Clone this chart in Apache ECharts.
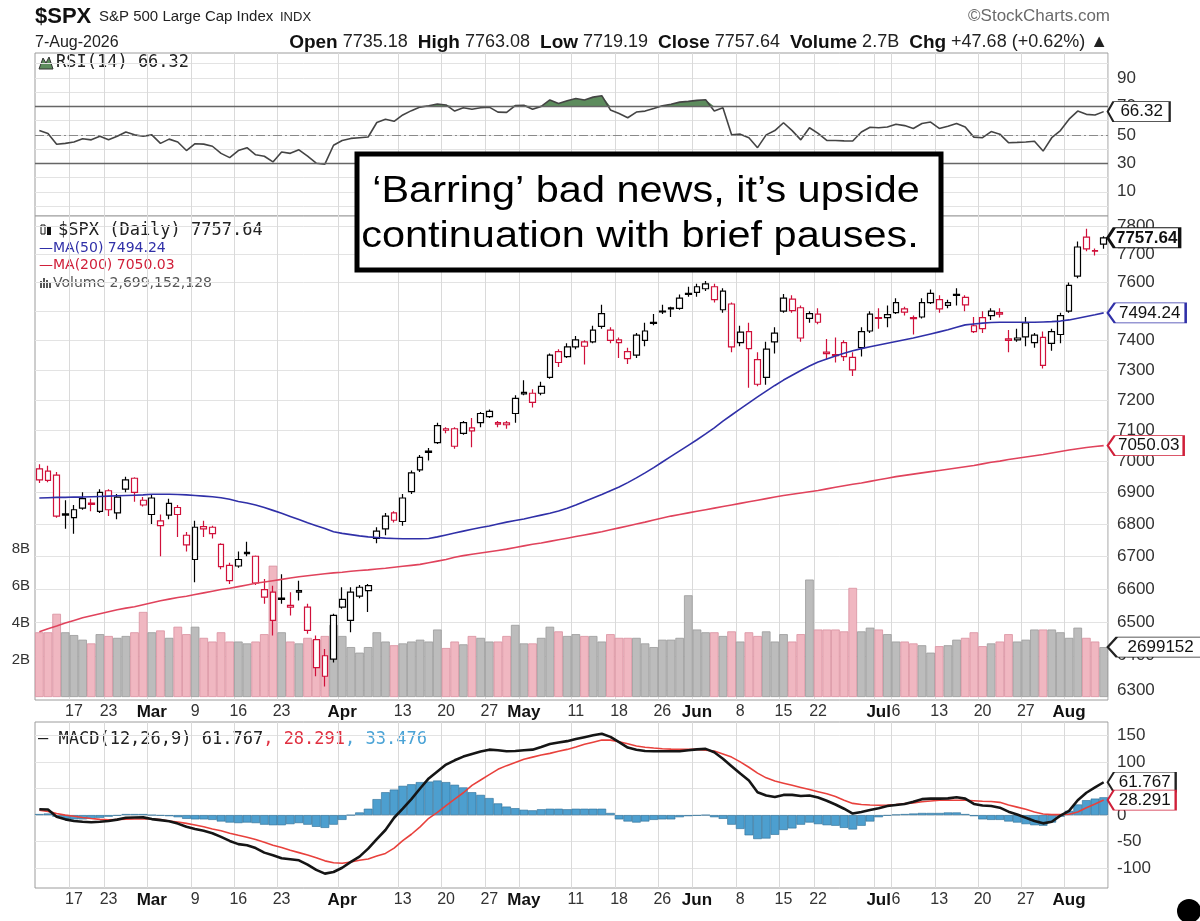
<!DOCTYPE html>
<html>
<head>
<meta charset="utf-8">
<script src="https://cdn.jsdelivr.net/npm/echarts@6/dist/echarts.min.js"></script>
<style>
html, body { margin: 0; padding: 0; background: #fff; }
#chart { width: 1200px; height: 921px; }
</style>
</head>
<body>
<div id="chart"></div>
<script>
// trading days Feb 10 - Aug 7 2026
const dates = [].concat(
  '10 11 12 13 17 18 19 20 23 24 25 26 27'.split(' ').map(d => '2026-02-' + d),
  '02 03 04 05 06 09 10 11 12 13 16 17 18 19 20 23 24 25 26 27 30 31'.split(' ').map(d => '2026-03-' + d),
  '01 02 06 07 08 09 10 13 14 15 16 17 20 21 22 23 24 27 28 29 30'.split(' ').map(d => '2026-04-' + d),
  '01 04 05 06 07 08 11 12 13 14 15 18 19 20 21 22 26 27 28 29'.split(' ').map(d => '2026-05-' + d),
  '01 02 03 04 05 08 09 10 11 12 15 16 17 18 22 23 24 25 26 29 30'.split(' ').map(d => '2026-06-' + d),
  '01 02 06 07 08 09 10 13 14 15 16 17 20 21 22 23 24 27 28 29 30 31'.split(' ').map(d => '2026-07-' + d),
  '03 04 05 06 07'.split(' ').map(d => '2026-08-' + d)
)

const tickDates = ['2026-02-17', '2026-02-23', '2026-03-02', '2026-03-09', '2026-03-16', '2026-03-23', '2026-04-01', '2026-04-13', '2026-04-20', '2026-04-27', '2026-05-01', '2026-05-11', '2026-05-18', '2026-05-26', '2026-06-01', '2026-06-08', '2026-06-15', '2026-06-22', '2026-07-01', '2026-07-06', '2026-07-13', '2026-07-20', '2026-07-27', '2026-08-03']
const tickText = ['17', '23', 'Mar', '9', '16', '23', 'Apr', '13', '20', '27', 'May', '11', '18', '26', 'Jun', '8', '15', '22', 'Jul', '6', '13', '20', '27', 'Aug']

const opens = [
  6975, 6968, 6955, 6832, 6820, 6850, 6866, 6840, 6905, 6835,
  6910, 6945, 6860, 6830, 6795, 6828, 6852, 6765, 6690, 6792,
  6790, 6737, 6672, 6670, 6712, 6700, 6575, 6590, 6572, 6550,
  6595, 6545, 6448, 6400, 6390, 6545, 6505, 6578, 6595, 6755,
  6785, 6835, 6808, 6902, 6972, 7032, 7060, 7105, 7105, 7090,
  7108, 7125, 7145, 7125, 7124, 7155, 7225, 7222, 7222, 7275,
  7362, 7345, 7378, 7380, 7395, 7448, 7435, 7402, 7362, 7350,
  7400, 7462, 7500, 7512, 7510, 7562, 7565, 7578, 7585, 7505,
  7525, 7428, 7430, 7335, 7275, 7395, 7500, 7542, 7512, 7475,
  7490, 7360, 7352, 7392, 7300, 7375, 7432, 7478, 7488, 7495,
  7508, 7478, 7480, 7530, 7540, 7520, 7558, 7548, 7430, 7478,
  7485, 7495, 7405, 7408, 7460, 7392, 7410, 7390, 7420, 7500,
  7622, 7760, 7712, 7735.18
]
const closes = [
  6940, 6938, 6825, 6828, 6845, 6880, 6862, 6900, 6845, 6885,
  6940, 6900, 6875, 6882, 6810, 6865, 6830, 6735, 6790, 6785,
  6770, 6668, 6625, 6690, 6708, 6618, 6598, 6505, 6568, 6545,
  6590, 6475, 6365, 6340, 6520, 6568, 6590, 6605, 6610, 6778,
  6825, 6812, 6882, 6962, 7012, 7028, 7115, 7100, 7048, 7125,
  7098, 7155, 7162, 7120, 7118, 7205, 7220, 7192, 7245, 7350,
  7325, 7378, 7402, 7395, 7435, 7492, 7400, 7392, 7338, 7418,
  7432, 7458, 7498, 7508, 7545, 7558, 7585, 7595, 7540, 7570,
  7378, 7392, 7372, 7252, 7370, 7425, 7545, 7502, 7408, 7492,
  7462, 7355, 7348, 7345, 7342, 7430, 7490, 7475, 7478, 7530,
  7497, 7474, 7530, 7562, 7508, 7530, 7555, 7522, 7450, 7440,
  7500, 7490, 7400, 7402, 7412, 7418, 7315, 7430, 7485, 7590,
  7725, 7718, 7710, 7757.64
]
const lows = [
  6930, 6932, 6820, 6785, 6770, 6845, 6840, 6835, 6825, 6815,
  6900, 6870, 6855, 6800, 6700, 6815, 6760, 6715, 6620, 6760,
  6755, 6660, 6615, 6665, 6700, 6612, 6555, 6460, 6555, 6520,
  6565, 6465, 6340, 6310, 6380, 6540, 6470, 6572, 6530, 6740,
  6765, 6805, 6795, 6895, 6965, 7002, 7055, 7090, 7040, 7085,
  7045, 7110, 7140, 7110, 7105, 7125, 7215, 7175, 7215, 7270,
  7310, 7340, 7370, 7318, 7390, 7440, 7390, 7340, 7320, 7340,
  7380, 7452, 7490, 7480, 7505, 7550, 7550, 7570, 7530, 7495,
  7360, 7380, 7240, 7245, 7250, 7355, 7495, 7495, 7395, 7460,
  7455, 7335, 7325, 7330, 7280, 7345, 7425, 7440, 7445, 7490,
  7485, 7420, 7475, 7525, 7495, 7510, 7520, 7500, 7425, 7425,
  7470, 7478, 7360, 7395, 7380, 7375, 7305, 7365, 7390, 7495,
  7615, 7710, 7695, 7719.19
]
const highs = [
  6990, 6985, 6965, 6875, 6860, 6900, 6880, 6910, 6910, 6895,
  6950, 6948, 6885, 6895, 6830, 6880, 6860, 6775, 6810, 6810,
  6795, 6740, 6680, 6715, 6745, 6702, 6630, 6610, 6645, 6590,
  6625, 6555, 6460, 6420, 6525, 6605, 6605, 6612, 6615, 6790,
  6835, 6840, 6895, 6970, 7020, 7042, 7125, 7110, 7110, 7130,
  7140, 7160, 7168, 7130, 7130, 7215, 7265, 7235, 7260, 7355,
  7370, 7390, 7415, 7400, 7450, 7522, 7445, 7410, 7375, 7425,
  7460, 7490, 7522, 7515, 7558, 7585, 7595, 7605, 7595, 7580,
  7530, 7450, 7460, 7360, 7395, 7445, 7560, 7555, 7520, 7500,
  7510, 7405, 7410, 7400, 7360, 7445, 7500, 7510, 7520, 7545,
  7515, 7485, 7545, 7575, 7555, 7540, 7580, 7555, 7480, 7500,
  7510, 7510, 7435, 7440, 7480, 7425, 7430, 7440, 7495, 7600,
  7745, 7790, 7720, 7763.08
]
// volume, billions of shares
const volumes = [
  3.5, 3.5, 4.5, 3.5, 3.35, 3.1, 2.9, 3.4, 3.3, 3.2,
  3.3, 3.5, 4.6, 3.5, 3.6, 3.2, 3.8, 3.4, 3.8, 3.2,
  3.0, 3.5, 3.0, 3.0, 2.9, 3.0, 3.4, 7.1, 3.5, 3.0,
  2.9, 3.2, 3.1, 3.3, 3.9, 3.3, 2.7, 2.4, 2.7, 3.5,
  3.0, 2.8, 2.9, 3.0, 3.1, 3.0, 3.65, 2.65, 3.0, 2.85,
  3.3, 3.2, 3.0, 3.0, 3.3, 3.9, 2.9, 2.9, 3.2, 3.8,
  3.55, 3.3, 3.4, 3.3, 3.3, 3.0, 3.4, 3.2, 3.2, 3.2,
  2.9, 2.7, 3.1, 3.1, 3.2, 5.5, 3.65, 3.5, 3.5, 3.3,
  3.55, 3.0, 3.5, 3.3, 3.55, 3.0, 3.4, 3.0, 3.4, 6.35,
  3.65, 3.65, 3.65, 3.55, 5.9, 3.55, 3.75, 3.65, 3.4, 3.0,
  3.0, 2.9, 2.8, 2.4, 2.75, 2.8, 3.1, 3.2, 3.5, 2.75,
  2.9, 3.0, 3.4, 3.0, 3.1, 3.65, 3.65, 3.65, 3.5, 3.2,
  3.75, 3.2, 3.0, 2.699
]
const ma50 = [
  6882, 6883, 6884, 6884, 6885, 6885, 6886, 6887, 6888, 6889,
  6890, 6891, 6892, 6894, 6894, 6894, 6893, 6892, 6890, 6888,
  6886, 6883, 6878, 6871, 6866, 6860, 6852, 6843, 6834, 6824,
  6814, 6804, 6795, 6786, 6776, 6771, 6767, 6763, 6760, 6758,
  6756, 6755, 6754, 6754, 6754, 6755, 6760, 6766, 6772, 6778,
  6784, 6789, 6794, 6800, 6806, 6811, 6816, 6822, 6828, 6834,
  6841, 6850, 6860, 6871, 6882, 6893, 6905, 6917, 6931, 6946,
  6962, 6979, 6997, 7015, 7033, 7051, 7069, 7088, 7108, 7130,
  7150, 7170, 7190, 7210, 7229, 7248, 7266, 7282, 7298, 7313,
  7327, 7337, 7347, 7356, 7365, 7372, 7378, 7384, 7390, 7396,
  7402, 7408, 7415, 7422, 7429, 7436, 7445, 7453, 7456, 7459,
  7461, 7462, 7462, 7462, 7462, 7462, 7463, 7464, 7466, 7470,
  7476, 7482, 7488, 7494.24
]
const ma200 = [
  6471, 6480, 6488, 6497, 6505, 6513, 6519, 6525, 6531, 6537,
  6542, 6546, 6552, 6558, 6564, 6569, 6574, 6578, 6583, 6588,
  6593, 6598, 6602, 6607, 6612, 6617, 6621, 6625, 6629, 6633,
  6637, 6640, 6643, 6646, 6649, 6651, 6654, 6656, 6658, 6661,
  6663, 6666, 6669, 6672, 6675, 6680, 6685, 6690, 6697, 6702,
  6706, 6710, 6714, 6718, 6722, 6727, 6732, 6737, 6741, 6746,
  6751, 6756, 6761, 6766, 6771, 6776, 6782, 6788, 6794, 6800,
  6806, 6813, 6819, 6825, 6830, 6835, 6840, 6845, 6850, 6855,
  6860, 6865, 6870, 6875, 6880, 6885, 6890, 6894, 6898, 6902,
  6906, 6911, 6916, 6921, 6926, 6930, 6935, 6940, 6945, 6950,
  6954, 6958, 6962, 6966, 6970, 6974, 6978, 6982, 6986, 6991,
  6996, 7000, 7005, 7009, 7013, 7017, 7021, 7026, 7031, 7036,
  7040, 7044, 7047, 7050.03
]
const rsi = [
  53, 51, 43.4, 44, 45, 47.3, 46.5, 49, 46.5, 49,
  52, 50, 49, 50, 44, 47, 45, 39, 43.8, 43.5,
  42, 37, 34, 39, 41, 36, 35, 31, 38, 37,
  39.5, 35, 30.1, 29.4, 42.7, 46, 47.5, 48, 48.5, 58.7,
  61, 59.5, 64, 67, 69.5, 70.5, 71.7, 71, 66.7, 69,
  68, 69, 69.5, 66, 65.8, 70.6, 70.8, 68, 70, 74.5,
  72, 74, 75.5, 74.5, 76.5, 77.5, 67.5, 65, 62, 66,
  66.7, 68.5, 70.5, 71.5, 73, 73.5, 74.2, 74.7, 66.7, 69,
  50, 50.5, 48, 41, 50, 53, 58.5, 53, 46.5, 55,
  51, 46.1, 46, 45.8, 45.7, 52, 55.3, 55, 55.5, 57.5,
  56.5, 54.5, 58, 59, 54.5, 56, 58, 55.5, 48.4, 48,
  52.3, 50.5, 44.5, 44.7, 45, 45.5, 38.6, 48, 53, 61,
  66.7, 64.4, 64, 66.32
]
const macd = [
  11, 10.5, -3, -8, -11, -12.5, -13.5, -12.5, -11, -8.5,
  -5, -4.5, -4.3, -7.5, -9.5, -11.5, -16, -22, -26, -29.5,
  -34, -41, -48.5, -54.5, -56.5, -62, -70.5, -75.5, -81, -83,
  -85, -93, -103, -110, -107, -99, -88, -78, -63, -45,
  -28, -5, 12, 30, 50, 69, 82, 95, 103, 110,
  115, 119.5, 123, 122, 120, 120.5, 122, 123, 128, 133.5,
  136.5, 139, 143, 146.5, 150, 153, 147, 137, 127, 123,
  120.5, 120, 120, 120, 120, 122, 123.5, 124.5, 118, 106,
  92, 78, 65, 43, 37, 34, 38, 38, 36, 37,
  33, 27, 20, 12, 3, 6, 9.5, 13, 17, 19,
  21, 25, 30, 31, 31, 31.5, 33.5, 31, 21, 18,
  17, 14, 6.5, 1, -5, -11, -15.5, -12.5, -1, 8,
  28, 42, 52, 61.767
]
const signal = [
  9.3, 7, 3, 0, -2, -4.5, -6.5, -8, -9, -8.3,
  -7.6, -7.4, -7.4, -7.4, -8.5, -11, -13, -15.5, -18.5, -22,
  -26, -29.5, -34, -38, -41.5, -46, -51, -56.5, -61, -66,
  -70.5, -75, -80, -86, -89.5, -90.5, -88, -85, -82.5, -77,
  -72, -62, -48, -36, -22, -6, 5, 18, 30, 42,
  56, 66, 76, 86, 93, 99, 105, 109, 113, 116,
  120, 123.5, 128, 133, 137, 141, 141, 138, 134, 130,
  127.5, 126, 124.7, 124, 123.7, 123.5, 123.5, 122, 120.5, 115,
  109, 100, 90, 79, 70, 64, 60, 56, 52, 48,
  44, 40, 35, 28, 22, 20, 19, 18.5, 19, 20,
  21.6, 23, 25, 26.5, 27.8, 27.8, 28, 28, 27, 26,
  25.5, 24, 19, 15, 11, 6, 2, 1, 1, 1.5,
  6, 14, 21, 28.291
]
const hist = [
  2, 3, -3, -7, -8, -8, -7, -5, -3, -1,
  2, 2, 2, 0, -1, -2, -4, -7, -8, -8,
  -9, -12, -14, -15, -14, -15, -18, -19, -19, -17,
  -15, -18, -22, -24, -18, -9, 0, 5, 12, 30,
  43, 48, 55, 58, 62, 63, 65, 62, 57, 52,
  43, 38, 32, 22, 16, 13, 10, 9, 11, 12,
  12, 11, 12, 12, 12, 12, 4, -8, -12, -14,
  -12, -9, -8, -8, -4, -2, -1, 0, -4, -7,
  -18, -26, -38, -45, -44, -37, -28, -25, -18, -14,
  -17, -19, -20, -24, -27, -20, -12, -4, -1, 1,
  2, 3, 4, 4, 4, 5, 5, 2, -2, -8,
  -9, -9, -12, -14, -17, -19, -20, -14, -3, 8,
  20, 28, 31, 33.476
]

const rsiTicks = [10, 30, 50, 70, 90]
const rsiGrid = [0, 10, 20, 30, 40, 50, 60, 70, 80, 90, 100]
const priceTicks = [6300, 6400, 6500, 6600, 6700, 6800, 6900, 7000, 7100, 7200, 7300, 7400, 7500, 7600, 7700, 7800]
const volTicks = [2, 4, 6, 8]
const macdTicks = [-100, -50, 0, 50, 100, 150]

const RED = '#d0103a'
const FONT = 'Liberation Sans'
const MONO = 'DejaVu Sans Mono'
const SANS = 'DejaVu Sans'
const last = dates.length - 1

const tickMap = new Map(tickDates.map((d, k) => [dates.indexOf(d), tickText[k]]))

// stockcharts colours: stroke by close vs previous close, hollow when close > open
const candleData = dates.map((d, i) => {
    const up = i > 0 && closes[i] >= closes[i - 1]
    const c = up ? '#000' : RED
    return {
        value: [opens[i], closes[i], lows[i], highs[i]],
        itemStyle: { color: '#fff', color0: c, borderColor: c, borderColor0: c, borderWidth: 1.2 }
    }
})
const volData = volumes.map((v, i) => {
    const up = i > 0 && closes[i] >= closes[i - 1]
    return {
        value: v,
        itemStyle: up
            ? { color: '#bcbcbc', borderColor: '#9a9a9a', borderWidth: 0.8 }
            : { color: '#f0b7c1', borderColor: '#d9909f', borderWidth: 0.8 }
    }
})

function xAxisFor (gridIndex, showLabel) {
    return {
        type: 'category',
        gridIndex: gridIndex,
        data: dates,
        boundaryGap: true,
        axisLine: { show: false },
        axisTick: { show: false },
        axisLabel: {
            show: showLabel,
            interval: (i) => tickMap.has(i),
            formatter: (v, i) => {
                const t = tickMap.get(i)
                return /^[A-Z]/.test(t) ? '{m|' + t + '}' : t
            },
            color: '#333',
            fontSize: 16,
            fontFamily: FONT,
            margin: 4,
            rich: { m: { fontWeight: 'bold', color: '#111', fontSize: 17, fontFamily: FONT } }
        },
        splitLine: { show: true, interval: (i) => tickMap.has(i), lineStyle: { color: '#dadada', width: 1 } }
    }
}

function yLabel () {
    return { color: '#333', fontSize: 17, fontFamily: FONT, margin: 9, formatter: (v) => String(v) }
}

// value tag right of the plot, pointed on its left side
function tag (value, text, border, w, bold) {
    return {
        coord: [dates[last], value],
        symbol: 'path://M0,6 L6,0 L66,0 L66,12 L6,12 Z',
        symbolSize: [w, 20],
        symbolKeepAspect: false,
        symbolOffset: [w / 2 + 4, 0],
        itemStyle: { color: '#fff', borderColor: border, borderWidth: bold ? 1.8 : 1.3 },
        label: {
            show: true,
            position: 'inside',
            offset: [3, 0],
            formatter: text,
            color: '#111',
            fontSize: 17,
            fontWeight: bold ? 'bold' : 'normal',
            fontFamily: FONT
        }
    }
}

const chart = echarts.init(document.getElementById('chart'))

const option = {
    animation: false,
    backgroundColor: '#fff',
    grid: [
        { left: 35, right: 92, top: 53, height: 163, show: true, borderColor: '#9c9c9c', borderWidth: 1, backgroundColor: '#fff' },
        { left: 35, right: 92, top: 216, height: 484, show: true, borderColor: '#9c9c9c', borderWidth: 1, backgroundColor: '#fff' },
        { left: 35, right: 92, top: 722, height: 166, show: true, borderColor: '#9c9c9c', borderWidth: 1, backgroundColor: '#fff' }
    ],
    xAxis: [xAxisFor(0, false), xAxisFor(1, true), xAxisFor(2, true)],
    yAxis: [
        {
            gridIndex: 0, type: 'value', position: 'right', min: -7, max: 107.5,
            axisLine: { show: false },
            axisTick: { show: false, customValues: rsiGrid },
            axisLabel: Object.assign(yLabel(), { customValues: rsiTicks }),
            splitLine: { lineStyle: { color: '#e3e3e3' } }
        },
        {
            gridIndex: 1, type: 'log', position: 'right', min: 6271, max: 7836,
            axisLine: { show: false },
            axisTick: { show: false, customValues: priceTicks },
            axisLabel: Object.assign(yLabel(), { customValues: priceTicks }),
            splitLine: { lineStyle: { color: '#e3e3e3' } }
        },
        {
            gridIndex: 1, type: 'value', position: 'left', min: -0.16, max: 26,
            axisLine: { show: false },
            axisTick: { show: false, customValues: volTicks },
            axisLabel: Object.assign(yLabel(), { customValues: volTicks, formatter: (v) => v + 'B', margin: 5, fontSize: 15 }),
            splitLine: { show: false }
        },
        {
            gridIndex: 2, type: 'value', position: 'right', min: -137, max: 175,
            axisLine: { show: false },
            axisTick: { show: false, customValues: macdTicks },
            axisLabel: Object.assign(yLabel(), { customValues: macdTicks }),
            splitLine: { lineStyle: { color: '#e3e3e3' } }
        }
    ],
    series: [
        {
            name: 'RSI fill', type: 'line', xAxisIndex: 0, yAxisIndex: 0,
            data: rsi.map(v => Math.max(v, 70)),
            showSymbol: false, silent: true, z: 1,
            lineStyle: { width: 0 },
            areaStyle: { color: '#5d8c5d', origin: 70, opacity: 1 }
        },
        {
            name: 'RSI', type: 'line', xAxisIndex: 0, yAxisIndex: 0,
            data: rsi, showSymbol: false, z: 3,
            lineStyle: { color: '#444', width: 1.6 },
            markLine: {
                silent: true, symbol: ['none', 'none'], label: { show: false },
                data: [
                    { yAxis: 70, lineStyle: { color: '#666', type: 'solid', width: 1.4 } },
                    { yAxis: 30, lineStyle: { color: '#666', type: 'solid', width: 1.4 } },
                    { yAxis: 50, lineStyle: { color: '#8a8a8a', type: [9, 3, 2, 3], width: 1 } }
                ]
            },
            markPoint: { silent: true, data: [tag(66.32, '66.32', '#222', 62, false)] }
        },
        {
            name: 'Volume', type: 'bar', xAxisIndex: 1, yAxisIndex: 2,
            data: volData, barWidth: '100%', z: 1, silent: true,
            markPoint: { silent: true, data: [tag(2.699, '2699152', '#222', 100, false)] }
        },
        {
            name: '$SPX', type: 'candlestick', xAxisIndex: 1, yAxisIndex: 1,
            data: candleData, barWidth: '72%', z: 4,
            markPoint: { silent: true, data: [tag(7757.64, '7757.64', '#111', 72, true)] }
        },
        {
            name: 'MA(50)', type: 'line', xAxisIndex: 1, yAxisIndex: 1,
            data: ma50, showSymbol: false, z: 5,
            lineStyle: { color: '#3030a8', width: 1.6 },
            markPoint: { silent: true, data: [tag(7494.24, '7494.24', '#3030a8', 78, false)] }
        },
        {
            name: 'MA(200)', type: 'line', xAxisIndex: 1, yAxisIndex: 1,
            data: ma200, showSymbol: false, z: 5,
            lineStyle: { color: '#e0435c', width: 1.6 },
            markPoint: { silent: true, data: [tag(7050.03, '7050.03', '#d0203a', 76, false)] }
        },
        {
            name: 'Histogram', type: 'bar', xAxisIndex: 2, yAxisIndex: 3,
            data: hist, barWidth: '100%', z: 1,
            itemStyle: { color: '#4d9fcf', borderColor: '#2c6d96', borderWidth: 0.6 }
        },
        {
            name: 'MACD', type: 'line', xAxisIndex: 2, yAxisIndex: 3,
            data: macd, showSymbol: false, z: 4,
            lineStyle: { color: '#151515', width: 2.6 },
            markPoint: { silent: true, data: [tag(61.767, '61.767', '#222', 68, false)] }
        },
        {
            name: 'Signal', type: 'line', xAxisIndex: 2, yAxisIndex: 3,
            data: signal, showSymbol: false, z: 3,
            lineStyle: { color: '#e8413c', width: 1.6 },
            markPoint: { silent: true, data: [tag(28.291, '28.291', '#d0203a', 68, false)] }
        }
    ],
    graphic: [
        // header
        { type: 'text', left: 35, top: 6, style: { text: '$SPX', fontSize: 22, fontWeight: 'bold', fontFamily: FONT, fill: '#111' } },
        { type: 'text', left: 99, top: 9, style: { text: 'S&P 500 Large Cap Index', fontSize: 15, fontFamily: FONT, fill: '#222' } },
        { type: 'text', left: 280, top: 11, style: { text: 'INDX', fontSize: 13, fontFamily: FONT, fill: '#222' } },
        { type: 'text', right: 90, top: 8, style: { text: '\u00a9StockCharts.com', fontSize: 17, fontFamily: FONT, fill: '#6a6a6a' } },
        { type: 'text', left: 35, top: 35, style: { text: '7-Aug-2026', fontSize: 16, fontFamily: FONT, fill: '#222' } },
        {
            type: 'text', right: 92, top: 33,
            style: {
                text: '{b|Open} 7735.18  {b|High} 7763.08  {b|Low} 7719.19  {b|Close} 7757.64  {b|Volume} 2.7B  {b|Chg} +47.68 (+0.62%) \u25b2',
                fontSize: 18, fontFamily: FONT, fill: '#222',
                rich: { b: { fontSize: 19, fontWeight: 'bold', fontFamily: FONT, fill: '#111', color: '#111' } }
            }
        },
        // panel legends
        { type: 'polygon', shape: { points: [[39, 69], [43, 58], [46, 63], [49, 57], [53, 69]] }, style: { fill: '#5d8c5d', stroke: '#333', lineWidth: 1 } },
        { type: 'text', left: 56, top: 54, style: { text: 'RSI(14) 66.32', fontSize: 17, fontFamily: MONO, fill: '#222' } },
        { type: 'rect', shape: { x: 41, y: 225, width: 4, height: 9 }, style: { fill: '#fff', stroke: '#111', lineWidth: 1 } },
        { type: 'rect', shape: { x: 47, y: 227, width: 4, height: 8 }, style: { fill: '#111' } },
        { type: 'text', left: 58, top: 222, style: { text: '$SPX (Daily) 7757.64', fontSize: 17, fontFamily: MONO, fill: '#222' } },
        { type: 'text', left: 39, top: 241, style: { text: '\u2014MA(50) 7494.24', fontSize: 14, fontFamily: SANS, fill: '#3030a8' } },
        { type: 'text', left: 39, top: 258, style: { text: '\u2014MA(200) 7050.03', fontSize: 14, fontFamily: SANS, fill: '#d0203a' } },
        { type: 'rect', shape: { x: 40, y: 281, width: 2, height: 7 }, style: { fill: '#555' } },
        { type: 'rect', shape: { x: 43, y: 278, width: 2, height: 10 }, style: { fill: '#555' } },
        { type: 'rect', shape: { x: 46, y: 280, width: 2, height: 8 }, style: { fill: '#555' } },
        { type: 'rect', shape: { x: 49, y: 283, width: 2, height: 5 }, style: { fill: '#555' } },
        { type: 'text', left: 53, top: 276, style: { text: 'Volume 2,699,152,128', fontSize: 14, fontFamily: SANS, fill: '#555' } },
        {
            type: 'text', left: 38, top: 731,
            style: {
                text: '{k|\u2014 MACD(12,26,9) 61.767}{r|, 28.291}{c|, 33.476}',
                fontSize: 17, fontFamily: MONO,
                rich: {
                    k: { fontSize: 17, fontFamily: MONO, fill: '#222', color: '#222' },
                    r: { fontSize: 17, fontFamily: MONO, fill: '#e03040', color: '#e03040' },
                    c: { fontSize: 17, fontFamily: MONO, fill: '#4aa3d6', color: '#4aa3d6' }
                }
            }
        },
        // annotation
        { type: 'rect', z: 100, shape: { x: 357, y: 154, width: 584, height: 116 }, style: { fill: '#fff', stroke: '#000', lineWidth: 5 } },
        { type: 'text', z: 101, x: 646, y: 192, scaleX: 1.12, style: { text: '\u2018Barring\u2019 bad news, it\u2019s upside', x: 0, y: 0, textAlign: 'center', textVerticalAlign: 'middle', fontSize: 37, fontFamily: FONT, fill: '#000' } },
        { type: 'text', z: 101, x: 640, y: 237, scaleX: 1.12, style: { text: 'continuation with brief pauses.', x: 0, y: 0, textAlign: 'center', textVerticalAlign: 'middle', fontSize: 37, fontFamily: FONT, fill: '#000' } },
        { type: 'circle', z: 100, shape: { cx: 1189, cy: 911, r: 12 }, style: { fill: '#000' } }
    ]
}

option && chart.setOption(option)
</script>
</body>
</html>
